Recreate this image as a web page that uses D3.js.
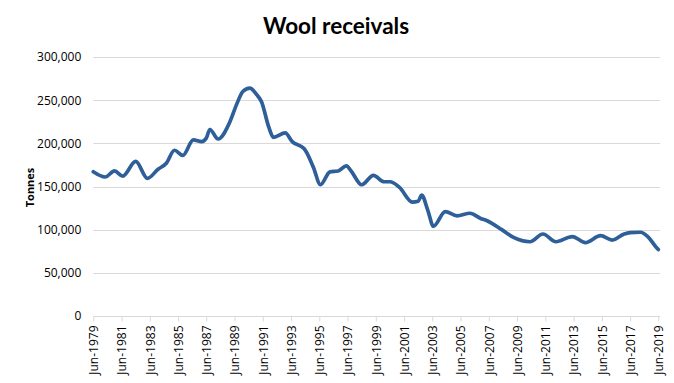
<!DOCTYPE html>
<html><head><meta charset="utf-8">
<script src="https://cdn.jsdelivr.net/npm/d3@7"></script>
<style>
body{margin:0;background:#fff;}
svg{display:block;font-family:"Open Sans",sans-serif;}
</style></head>
<body><svg id="c" width="674" height="383"></svg>
<script>
const dates = ["1979-06","1980-04","1980-12","1981-07","1982-06","1983-04","1984-01","1984-08","1985-03","1985-10",
"1986-07","1987-02","1987-06","1987-09","1988-04","1989-02","1989-08","1990-01","1990-07","1991-01",
"1991-05","1991-11","1992-03","1993-01","1993-07","1994-05","1994-07","1995-01","1995-07","1996-03",
"1996-10","1997-05","1997-09","1998-06","1999-04","2000-01","2000-06","2001-02","2002-01","2002-06",
"2002-09","2003-02","2003-07","2004-05","2005-03","2006-02","2006-11","2007-05","2008-05","2009-03",
"2010-05","2011-04","2012-03","2013-05","2014-04","2015-05","2016-03","2017-01","2017-06","2018-03",
"2018-09","2019-04","2019-06"];
const tonnes = [167000,161000,168000,162000,179000,159500,170000,177000,192000,186000,
204000,202000,206000,216000,205000,225000,246000,260000,264000,256000,
248000,219000,207000,212000,202000,194000,190000,172000,152000,167000,
168000,174000,168000,152000,163000,155500,155500,149000,132000,133000,
140000,123000,104000,121000,116000,119000,113000,110000,100000,91000,
86000,95000,86000,92000,85000,93000,88000,95000,96500,97000,
92000,80000,77000];
const yTicks = [0,50000,100000,150000,200000,250000,300000];
const xTickYears = d3.range(1979, 2020, 2);
const title = "Wool receivals";
const yTitle = "Tonnes";

const parse = d3.timeParse("%Y-%m");
const data = dates.map((d,i)=>({date:parse(d), v:tonnes[i]}));

const svg = d3.select("#c");
const L = 93.3, R = 658.3, T = 57, B = 316;
const x = d3.scaleTime().domain([parse("1979-06"), parse("2019-06")]).range([L, R]);
const y = d3.scaleLinear().domain([0,300000]).range([B, T]);

svg.append("text").attr("x",336).attr("y",34).attr("text-anchor","middle")
  .style("font-size","22.5px").style("font-weight","bold").style("font-family","Lato, 'Open Sans', sans-serif").text(title);

// grid
svg.append("g").selectAll("line").data(yTicks.filter(d=>d>0)).join("line")
  .attr("x1",L).attr("x2",R+2).attr("y1",d=>Math.round(y(d))+0.5).attr("y2",d=>Math.round(y(d))+0.5)
  .attr("stroke","#d9d9d9").attr("stroke-width",1);

// y axis labels
const ya = svg.append("g").attr("transform",`translate(${L},0)`)
  .call(d3.axisLeft(y).tickValues(yTicks).tickSize(0).tickPadding(12).tickFormat(d3.format(",")));
ya.select(".domain").remove();
ya.selectAll("text").style("font-size","12px").style("font-family","'Open Sans',sans-serif").attr("fill","#000");

svg.append("text").attr("transform",`translate(34,${(T+B)/2+1}) rotate(-90)`).attr("text-anchor","middle")
  .style("font-size","11px").style("font-weight","bold").text(yTitle);

// x axis
const xa = svg.append("g").attr("transform",`translate(0,${B+0.5})`)
  .call(d3.axisBottom(x).tickValues(xTickYears.map(yv=>parse(yv+"-06"))).tickSize(5).tickPadding(0)
    .tickFormat(d3.timeFormat("Jun-%Y")));
xa.select(".domain").attr("stroke","#d9d9d9").attr("d",`M${L},0H${R+2}`);
xa.selectAll(".tick line").attr("stroke","#d9d9d9");
xa.selectAll("text").attr("transform","rotate(-90)").attr("text-anchor","end")
  .attr("x",-9).attr("y",0).attr("dy","0.35em").attr("dx",0)
  .style("font-size","12px").style("font-family","'Open Sans',sans-serif").attr("fill","#000");

// line
svg.append("path").datum(data)
  .attr("d", d3.line().x(d=>x(d.date)).y(d=>y(d.v)).curve(d3.curveMonotoneX))
  .attr("fill","none").attr("stroke","#2f5f98").attr("stroke-width",3.7)
  .attr("stroke-linejoin","round").attr("stroke-linecap","round");
</script></body></html>
